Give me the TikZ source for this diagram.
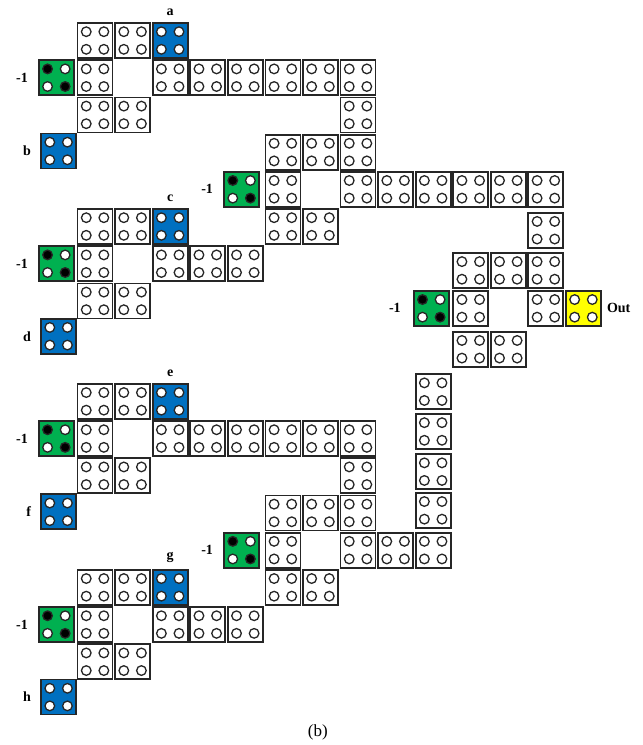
\documentclass[tikz,border=0pt]{standalone}
\usepackage{fontspec}
\setmainfont{Liberation Serif}
\usetikzlibrary{calc,positioning}
\definecolor{cellblue}{RGB}{0,112,192}
\definecolor{cellgreen}{RGB}{0,176,80}
\definecolor{cellyellow}{RGB}{255,255,0}
\tikzset{
  holes/.style n args={4}{path picture={
    \foreach \dx/\dy/\hole in {-1/1/#1,1/1/#2,-1/-1/#3,1/-1/#4}
      \draw[line width=1.3pt,fill=\hole] ($(path picture bounding box.center)+(\dx*8.8pt,\dy*8.8pt)$) circle (4.8pt);}},
  cell/.style={draw=black!85,fill=white,rectangle,minimum size=35pt,inner sep=0pt,line width=1.8pt,holes={white}{white}{white}{white}},
  cell-b/.style={cell,fill=cellblue},
  cell-g/.style={cell,fill=cellgreen,holes={black}{white}{white}{black}},
  cell-y/.style={cell,fill=cellyellow},
  lbl/.style={font=\fontsize{14}{16}\selectfont\bfseries,inner sep=0pt},
}

\begin{document}
\begin{tikzpicture}[x=37.57pt,y=-37.2pt]

  \useasboundingbox (-1.53,-1.089) rectangle (15.584,18.938);

  % the two halves are the same, only the middle row is shorter below
  \foreach \h/\dy/\la/\lb/\lc/\ld/\mend in {top/0/a/b/c/d/13, bot/9.7/e/f/g/h/10} {
  \begin{scope}[shift={(0,\dy)},name prefix=\h-]

    % UNIT 1: inputs a, b
    \foreach \c in {1,2} \node[cell] (r0-\c) at (\c,0) {};
    \node[cell-b] (in1) at (3,0) {};
    \node[lbl,above=6pt of in1] (lab1) {\la};
    \node[cell-g] (g1) at (-0.03,1) {};
    \node[lbl,left=10pt of g1] (m1) {-1};
    \foreach \c in {1,3,4,...,8} \node[cell] (r1-\c) at (\c,1) {};
    \foreach \c in {1,2,8} \node[cell] (r2-\c) at (\c,2) {};
    \node[cell-b] (in2) at (0.03,2.97) {};
    \node[lbl,left=9pt of in2] (lab2) {\lb};
    \foreach \c in {6,7,8} \node[cell] (r3-\c) at (\c,3) {};

    % UNIT 2: middle gate
    \node[cell-g] (g2) at (4.9,4) {};
    \node[lbl,left=10pt of g2] (m2) {-1};
    \foreach \c in {6,8,9,...,\mend} \node[cell] (r4-\c) at (\c,4) {};
    \foreach \c in {6,7} \node[cell] (r5-\c) at (\c,5) {};

    % UNIT 3: inputs c, d
    \foreach \c in {1,2} \node[cell] (s0-\c) at (\c,5) {};
    \node[cell-b] (in3) at (3,5) {};
    \node[lbl,above=6pt of in3] (lab3) {\lc};
    \node[cell-g] (g3) at (-0.03,6) {};
    \node[lbl,left=10pt of g3] (m3) {-1};
    \foreach \c in {1,3,4,5} \node[cell] (s1-\c) at (\c,6) {};
    \foreach \c in {1,2} \node[cell] (s2-\c) at (\c,7) {};
    \node[cell-b] (in4) at (0.03,7.95) {};
    \node[lbl,left=9pt of in4] (lab4) {\ld};

  \end{scope}
  }

  % UNIT 4: output gate
  \node[cell] (q0-13) at (13,5.1) {};
  \foreach \c in {11,12,13} \node[cell] (q1-\c) at (\c,6.18) {};
  \node[cell-g] (g4) at (9.95,7.2) {};
  \node[lbl,left=12pt of g4] (m4) {-1};
  \foreach \c in {11,13} \node[cell] (q2-\c) at (\c,7.2) {};
  \node[cell-y] (out) at (14,7.2) {};
  \node[lbl,right=5pt of out] (lab-out) {Out};
  \foreach \c in {11,12} \node[cell] (q3-\c) at (\c,8.3) {};

  % column down to the lower half
  \foreach \r [count=\i] in {9.44,10.51,11.59,12.63} \node[cell] (v\i) at (10,\r) {};

  \node[font=\fontsize{17}{20}\selectfont] (cap) at (6.93,18.59) {(b)};

\end{tikzpicture}
\end{document}
